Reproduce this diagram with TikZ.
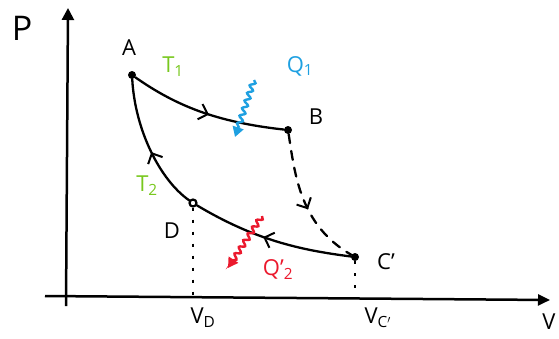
\documentclass[tikz,border=0pt]{standalone}
\usepackage{fontspec}
\setmainfont{Open Sans}
\usetikzlibrary{arrows.meta,decorations.pathmorphing,decorations.markings}
\definecolor{tgreen}{RGB}{120,200,30}
\definecolor{qblue}{RGB}{30,160,225}
\definecolor{qred}{RGB}{235,25,45}
\tikzset{
  pt/.style={circle,fill=black,inner sep=0pt,minimum size=8pt},
  lbl/.style={font=\fontsize{22}{24}\selectfont,inner sep=1pt},
  curve/.style={line width=2.3pt,line cap=round},
  midarrow/.style={postaction={decorate},decoration={markings,mark=at position #1 with {\arrow{Straight Barb[length=8pt,width=16pt,line width=2pt]}}}},
  heat/.style={line width=2.4pt,decorate,decoration={snake,amplitude=2.5pt,segment length=8pt,post length=8pt},-{Triangle[length=10pt,width=11pt]}},
  guide/.style={line width=2.3pt,dash pattern=on 3pt off 9pt}
}
\begin{document}
\begin{tikzpicture}[x=1pt,y=-1pt]
\useasboundingbox (0,0) rectangle (559,338);
% axes
\coordinate (yb) at (66,306);
\coordinate (yt) at (68,8);
\coordinate (xl) at (45,296);
\coordinate (xr) at (550,300);
\draw[line width=2.5pt,-{Triangle[length=12pt,width=12pt]}] (yb) -- (yt);
\draw[line width=2.5pt,-{Triangle[length=12pt,width=11pt]}] (xl) -- (xr);
\node[lbl,font=\fontsize{34}{36}\selectfont] (P) at (22,28) {P};
\node[lbl] (V) at (549,322) {V};
% points
\node[pt] (A) at (132,75) {};
\node[pt] (B) at (288,130) {};
\node[pt] (C) at (355,257) {};
\node[pt,fill=white,draw,line width=2.2pt,minimum size=7pt] (D) at (193,203) {};
\node[lbl] (lA) at (129,48) {A};
\node[lbl] (lB) at (316,117) {B};
\node[lbl] (lC) at (386,262) {C'};
\node[lbl] (lD) at (172,231) {D};
\node[lbl,text=tgreen] (T1) at (173,67) {T$_{\mathrm{1}}$};
\node[lbl,text=tgreen] (T2) at (147,186) {T$_{\mathrm{2}}$};
\node[lbl,text=qblue] (Q1) at (300,66) {Q$_{\mathrm{1}}$};
\node[lbl,text=qred] (Q2) at (278,270) {Q'$_{\mathrm{2}}$};
\node[lbl] (VD) at (203,318) {V$_{\mathrm{D}}$};
\node[lbl] (VC) at (378,318) {V$_{\mathrm{C'}}$};
% cycle
\draw[curve,midarrow=0.52] (A) .. controls (175,105) and (215,122) .. (B);
\draw[curve,dash pattern=on 9pt off 8pt,midarrow=0.55] (B) .. controls (295,175) and (300,225) .. (C);
\draw[curve,midarrow=0.55] (C) .. controls (300,250) and (255,240) .. (D);
\draw[curve,midarrow=0.45] (D) .. controls (160,180) and (135,130) .. (A);
% guides
\coordinate (Dax) at (193,296);
\coordinate (Cax) at (355,296);
\draw[guide] (D) -- (Dax);
\draw[guide] (C) -- (Cax);
% heat
\coordinate (q1s) at (254,80);
\coordinate (q1e) at (235,137);
\coordinate (q2s) at (262,216);
\coordinate (q2e) at (228,268);
\draw[heat,qblue] (q1s) -- (q1e);
\draw[heat,qred] (q2s) -- (q2e);
\end{tikzpicture}
\end{document}
